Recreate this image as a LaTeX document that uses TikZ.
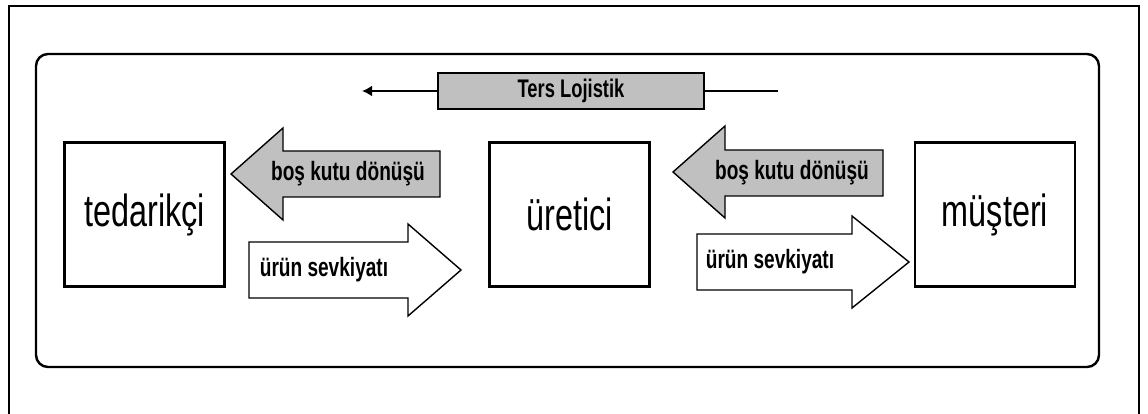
\documentclass[tikz,border=0pt]{standalone}
\usepackage{fontspec}
\usetikzlibrary{arrows.meta}
\newfontfamily\labfont[FakeStretch=0.72]{Liberation Sans}
\definecolor{boxgray}{RGB}{192,192,192}
\begin{document}
\begin{tikzpicture}[x=1pt,y=-1pt,
  entity/.style={draw, line width=2.6pt, fill=white, minimum width=160pt, minimum height=144pt,
    inner sep=0pt, font=\labfont\fontsize{45}{45}\selectfont},
  flowlabel/.style={inner sep=0pt, font=\labfont\bfseries\fontsize{26.5}{26.5}\selectfont},
  blockarrow/.style={draw, line width=1.4pt, line join=miter}]
\useasboundingbox (0,0) rectangle (1148,414);
\clip (0,0) rectangle (1148,414);
% outer frame, open at the bottom edge
\draw[line width=1.8pt] (9,430) -- (9,6) -- (1139,6) -- (1139,430);
% inner rounded panel
\draw[line width=2.4pt, rounded corners=12pt] (36,54) rectangle (1099,367);

% reverse logistics banner
\node[draw, line width=1.6pt, fill=boxgray, minimum width=266pt, minimum height=36pt,
  inner sep=0pt, font=\labfont\bfseries\fontsize{25.5}{25.5}\selectfont] (ters) at (571,91) {Ters Lojistik};
\coordinate (tersR) at (778,91);
\coordinate (tersL) at (362,91);
\draw[line width=2.4pt] (ters.east) -- (tersR);
\draw[line width=2.4pt, -{Latex[length=10pt,width=11pt]}] (ters.west) -- (tersL);

% the three parties
\node[entity] (ted) at (144.5,214.5) {tedarikçi};
\node[entity] (ure) at (569.5,214.5) {üretici};
\node[entity] (mus) at (995,214.5) {müşteri};

% returns: supplier <- producer
\draw[blockarrow, fill=boxgray] (231,174) -- (283,128) -- (283,151) -- (440,151) -- (440,197)
  -- (283,197) -- (283,220) -- cycle;
\node[flowlabel] (ret1) at (348,174) {boş kutu dönüşü};
% shipment: supplier -> producer
\draw[blockarrow, fill=white] (249,242) -- (408,242) -- (408,224) -- (461,270) -- (408,316)
  -- (408,298) -- (249,298) -- cycle;
\node[flowlabel] (shp1) at (324,270) {ürün sevkiyatı};

% returns: producer <- customer
\draw[blockarrow, fill=boxgray] (673,172) -- (725,126) -- (725,150) -- (883,150) -- (883,196)
  -- (725,196) -- (725,218) -- cycle;
\node[flowlabel] (ret2) at (792,173) {boş kutu dönüşü};
% shipment: producer -> customer
\draw[blockarrow, fill=white] (697,234) -- (852,234) -- (852,216) -- (909,262) -- (852,308)
  -- (852,290) -- (697,290) -- cycle;
\node[flowlabel] (shp2) at (770,262) {ürün sevkiyatı};
\end{tikzpicture}
\end{document}
